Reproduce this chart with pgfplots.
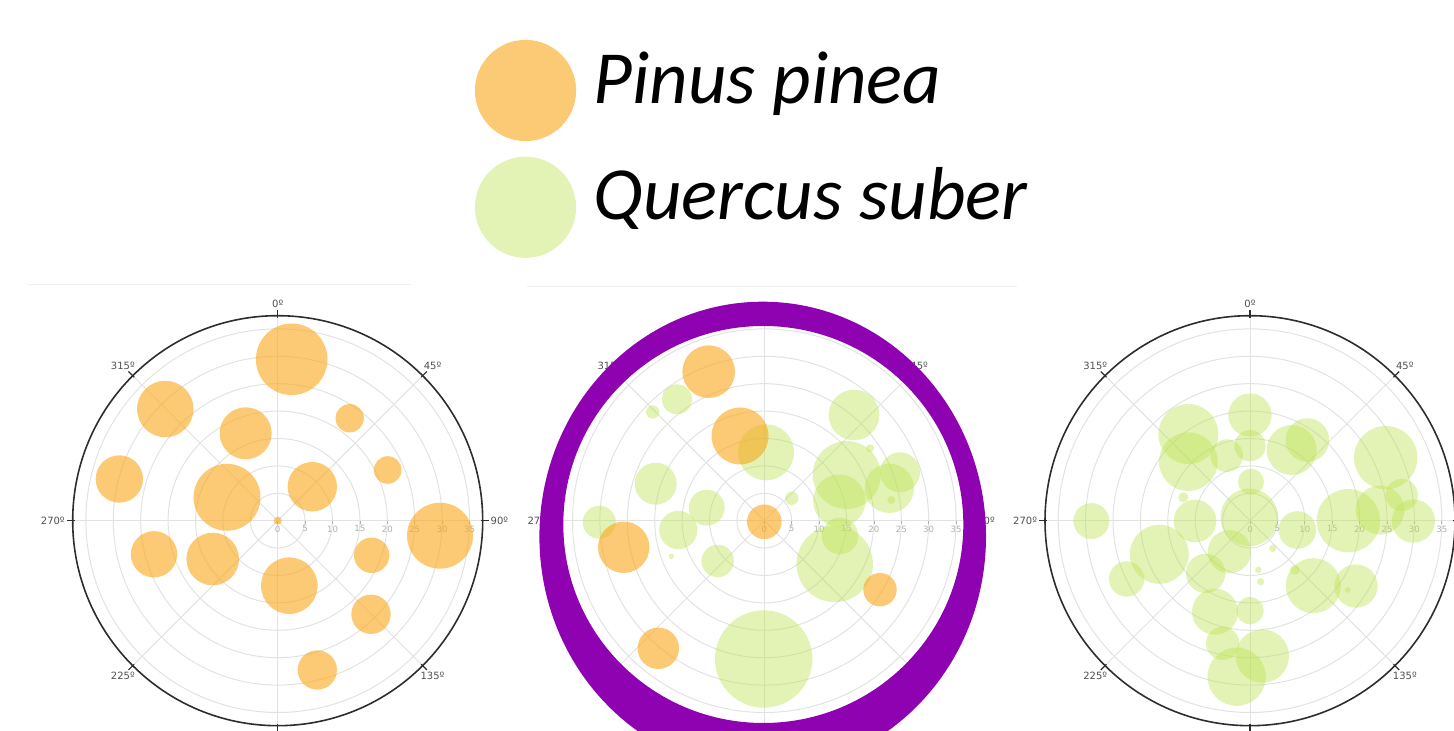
\documentclass[border=0pt]{standalone}
\usepackage{fontspec}
\setmainfont{DejaVu Sans}
\newfontfamily\legfont{Carlito}
\usepackage{pgfplots}
\usepackage{pgfplotstable}
\pgfplotsset{compat=1.18}

\definecolor{pinec}{RGB}{250,170,30}
\definecolor{querc}{RGB}{190,228,90}
\definecolor{ringc}{RGB}{142,2,178}
\definecolor{gridc}{RGB}{226,226,226}
\definecolor{axc}{RGB}{45,45,45}
\definecolor{labc}{RGB}{80,80,80}
\definecolor{rlabc}{RGB}{175,175,175}

% x, y in radial units (0 deg at top, clockwise), r = bubble radius in the same units
\pgfplotstableread{
x y r
2.55 29.45 6.53
-20.51 20.38 5.15
13.14 18.69 2.59
-5.84 15.95 4.74
-28.90 7.61 4.32
20.07 9.25 2.52
6.31 6.20 4.51
-9.25 4.27 6.11
0 0 0.73
29.62 -2.74 6.02
-22.57 -6.13 4.23
-11.86 -6.99 4.80
17.15 -6.31 3.23
2.12 -11.86 5.16
17.03 -17.08 3.59
7.23 -27.24 3.59
}\leftpine

\pgfplotstableread{
x y r
-10.15 27.19 4.80
-4.43 15.46 5.20
0 -0.2 3.16
-25.66 -4.85 4.69
21.11 -12.59 3.05
-19.34 -23.28 3.78
}\midpine

\pgfplotstableread{
x y r
-15.93 22.15 2.74
-20.36 19.84 1.22
16.37 19.29 4.62
0.31 12.48 5.11
19.29 13.21 0.73
15.04 8.34 6.20
24.76 8.83 3.65
22.81 5.91 4.51
13.69 3.65 4.78
23.18 3.78 0.73
5.00 4.09 1.22
-19.82 6.75 3.83
-10.51 2.37 3.28
-30.11 -0.29 3.01
-15.69 -1.70 3.50
13.81 -2.79 3.34
12.85 -7.90 6.97
-16.97 -6.50 0.49
-8.50 -7.35 2.96
-0.11 -25.24 8.89
}\midquercus

\pgfplotstableread{
x y r
0 19.28 3.95
-11.25 15.82 5.47
-11.25 10.77 5.35
-4.26 11.86 2.98
0 13.69 2.86
7.60 12.90 4.56
10.46 14.72 3.98
24.76 11.50 5.78
0.18 7.12 2.37
-12.17 4.26 0.91
-28.95 -0.06 3.28
-10.04 -0.06 3.89
-0.12 0.61 5.26
8.64 -1.70 3.44
17.94 0 5.78
23.72 1.95 4.47
27.68 4.68 2.95
29.81 -0.06 3.95
-16.55 -6.14 5.38
-22.51 -10.64 3.22
-3.77 -5.66 3.95
-8.09 -9.61 3.59
4.14 -5.05 0.67
1.52 -9.00 0.60
1.95 -11.13 0.65
8.15 -9.00 0.90
11.56 -11.86 5.02
19.34 -11.92 3.95
17.82 -12.65 0.50
-6.39 -16.61 4.20
0 -16.42 2.49
-4.99 -22.38 3.04
2.25 -24.70 4.87
-2.43 -28.47 5.32
}\rightquercus

\newcommand\ticklabfont{\fontsize{5}{6}\selectfont}
\newcommand\radlabfont{\fontsize{4.3}{5}\selectfont}

\pgfplotsset{
  bubble/.style 2 args={only marks, scatter, mark=*, point meta=y, forget plot,
    visualization depends on={2.74*\thisrow{r} \as \bubr},
    scatter/@pre marker code/.code={\scope[mark size=\bubr pt, fill=#1, draw opacity=0, fill opacity=#2]},
    scatter/@post marker code/.code={\endscope}},
  polarframe/.style={x=2.74pt, y=2.74pt, xmin=-38, xmax=38, ymin=-38, ymax=38,
    hide axis, clip=false, anchor=center},
}

\newcommand{\alllabels}{0/270,45/225,90/180,135/135,180/90,225/45,270/0,315/315}
\newcommand{\polardeco}[1]{%
  \foreach \rr in {5,10,...,35}{\draw[gridc, line width=0.5pt] (axis cs:0,0) circle[radius=\rr*2.74pt];}%
  \foreach \a in {0,45,...,315}{\draw[gridc, line width=0.5pt] (axis cs:0,0) -- ++(90-\a:102.5pt);}%
  \draw[axc, line width=0.8pt] (axis cs:0,0) circle[radius=102.5pt];%
  \foreach \a in {0,45,...,315}{%
    \draw[axc, line width=0.6pt] (axis cs:0,0) ++(90-\a:101.5pt) -- ++(90-\a:4pt);}%
  \foreach \a/\b in {#1}{%
    \path (axis cs:0,0) ++(90-\a:105.8pt) node[anchor=\b, inner sep=0.5pt, text=labc, font=\ticklabfont] {\a{}º};%
  }%
  \foreach \rr in {0,5,...,35}{%
    \draw[rlabc, line width=0.4pt] (axis cs:\rr,0) -- ([yshift=-1.8pt]axis cs:\rr,0);%
    \node[anchor=north, inner sep=0.5pt, text=rlabc, font=\radlabfont] at ([yshift=-1.8pt]axis cs:\rr,0) {\rr};%
  }%
}

\begin{document}
\begin{tikzpicture}
\path[use as bounding box] (0,0) rectangle (727pt,365.5pt);
\draw[black!6, line width=0.5pt] (14pt,223pt) -- (205.5pt,223pt);
\draw[black!6, line width=0.5pt] (263.5pt,222pt) -- (508.5pt,222pt);

% left: Pinus pinea
\begin{axis}[polarframe, at={(138.85pt,105.15pt)}]
\pgfplotsextra{\polardeco{0/270,45/225,90/180,135/135,180/90,225/45,270/0,315/315}}
\addplot[bubble={pinec}{0.62}] table {\leftpine};
\end{axis}

% middle: both species
\begin{axis}[polarframe, at={(382.15pt,105.15pt)},
  legend cell align=left,
  legend style={at={(axis description cs:-0.1958,1.6554)}, anchor=north west,
    draw=none, fill=none, inner sep=0pt, outer sep=0pt,
    column sep=8.5pt, row sep=7.4pt, nodes={inner sep=0pt, text=black},
    cells={anchor=base west},
    font=\legfont\itshape\fontsize{37.5}{45}\selectfont}]
\pgfplotsextra{\polardeco{45/225,90/180,135/135,225/45,270/0,315/315}}
\addplot[bubble={querc}{0.45}] table {\midquercus};
\addplot[bubble={pinec}{0.62}] table {\midpine};
\pgfplotsextra{\fill[ringc, even odd rule]
  ([xshift=-0.8pt, yshift=-7.9pt]axis cs:0,0) ellipse[x radius=111.65pt, y radius=117.4pt]
  ([xshift=-0.5pt, yshift=-1.9pt]axis cs:0,0) ellipse[x radius=100pt, y radius=99.25pt];}
\addlegendimage{legend image code/.code={\path[fill=pinec, fill opacity=0.62, draw opacity=0] (0pt,6.3pt) circle[radius=25.3pt];}}
\addlegendentry{Pinus pinea}
\addlegendimage{legend image code/.code={\path[fill=querc, fill opacity=0.45, draw opacity=0] (0pt,6.3pt) circle[radius=25.3pt];}}
\addlegendentry{Quercus suber}
\end{axis}

% right: Quercus suber
\begin{axis}[polarframe, at={(625pt,105.15pt)}]
\pgfplotsextra{\polardeco{0/270,45/225,90/180,135/135,180/90,225/45,270/0,315/315}}
\addplot[bubble={querc}{0.45}] table {\rightquercus};
\end{axis}
\end{tikzpicture}
\end{document}
